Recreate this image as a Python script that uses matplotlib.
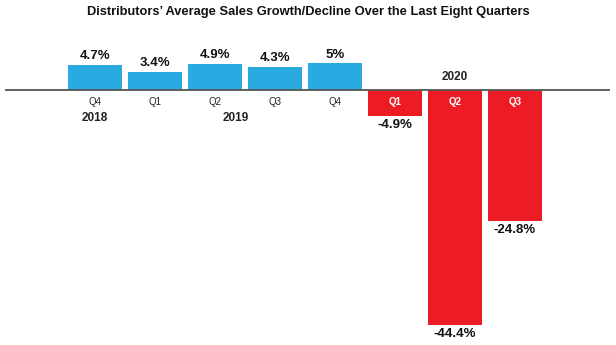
import matplotlib.pyplot as plt

plt.rcParams['font.family'] = ['Liberation Sans', 'DejaVu Sans']

quarters = ["Q4", "Q1", "Q2", "Q3", "Q4", "Q1", "Q2", "Q3"]
growth = [4.7, 3.4, 4.9, 4.3, 5.0, -4.9, -44.4, -24.8]
labels = ["4.7%", "3.4%", "4.9%", "4.3%", "5%", "-4.9%", "-44.4%", "-24.8%"]
years = ["2018", "2019", "2020"]
year_pos = [0, 2.35, 6]

blue = "#29abe2"
red = "#ed1c24"

fig = plt.figure(figsize=(6.16, 3.45), dpi=100)
ax = fig.add_axes([5 / 616, 5 / 345, 605 / 616, 300 / 345])

xs = list(range(len(growth)))
colors = [blue if v > 0 else red for v in growth]
ax.bar(xs, growth, width=0.9, color=colors, zorder=2)
ax.axhline(0, color="#555555", lw=1.3, zorder=3)

for x, v, lab, q in zip(xs, growth, labels, quarters):
    if v > 0:
        ax.annotate(lab, (x, v), xytext=(0, 2), textcoords="offset points",
                    ha="center", va="bottom", fontsize=9.5, fontweight="bold", color="#111111")
        ax.annotate(q, (x, 0), xytext=(0, -5), textcoords="offset points",
                    ha="center", va="top", fontsize=7, color="#222222")
    else:
        ax.annotate(lab, (x, v), xytext=(0, -2), textcoords="offset points",
                    ha="center", va="top", fontsize=9.5, fontweight="bold", color="#111111")
        ax.annotate(q, (x, 0), xytext=(0, -5), textcoords="offset points",
                    ha="center", va="top", fontsize=7, fontweight="bold", color="white", zorder=4)

for yr, p in zip(years[:2], year_pos[:2]):
    ax.annotate(yr, (p, 0), xytext=(0, -16), textcoords="offset points",
                ha="center", va="top", fontsize=8.5, fontweight="bold", color="#222222")
ax.annotate(years[2], (year_pos[2], 0), xytext=(0, 5), textcoords="offset points",
            ha="center", va="bottom", fontsize=8.5, fontweight="bold", color="#222222")

ax.set_xlim(-1.5, 8.583)
ax.set_ylim(-47.17, 9.43)
ax.axis("off")

fig.text(0.5, 1 - 12 / 345, "Distributors\u2019 Average Sales Growth/Decline Over the Last Eight Quarters",
         ha="center", va="center", fontsize=9.3, fontweight="bold", color="#111111")

fig.savefig("out.png", dpi=100)
